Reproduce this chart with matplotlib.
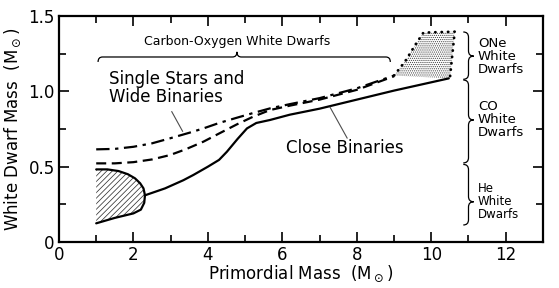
import numpy as np
import matplotlib
matplotlib.use("Agg")
import matplotlib.pyplot as plt
from matplotlib.path import Path
from matplotlib.patches import PathPatch, Polygon

# single stars and wide binaries (dash-dot)
single_x = [1.0, 1.5, 2.0, 2.5, 2.98, 3.5, 3.88, 4.3, 4.78, 5.2, 5.67, 6.2, 7.0, 8.0, 9.0]
single_y = [0.615, 0.618, 0.632, 0.655, 0.688, 0.725, 0.754, 0.79, 0.825, 0.855, 0.887, 0.915, 0.955, 1.02, 1.105]

# wide binaries lower branch (dashed)
wide_x = [1.0, 1.5, 2.0, 2.5, 2.98, 3.4, 3.88, 4.3, 4.78, 5.2, 5.67, 6.2, 7.0, 8.0, 9.0]
wide_y = [0.522, 0.522, 0.53, 0.548, 0.577, 0.615, 0.666, 0.72, 0.781, 0.83, 0.876, 0.905, 0.945, 1.01, 1.10]

# close binaries (solid)
close_x = [2.31, 2.85, 3.34, 3.61, 4.0, 4.3, 4.51, 4.8, 5.05, 5.3, 5.67, 6.2, 7.0, 8.0, 9.0, 10.0, 10.47]
close_y = [0.31, 0.356, 0.41, 0.445, 0.50, 0.545, 0.599, 0.685, 0.754, 0.79, 0.81, 0.845, 0.885, 0.945, 1.005, 1.06, 1.086]

# He white dwarf lobe (hatched)
lobe_x = [1.0, 1.3, 1.6, 1.85, 2.04, 2.18, 2.27, 2.31, 2.29, 2.2, 2.0, 1.5, 1.0]
lobe_y = [0.482, 0.482, 0.471, 0.45, 0.423, 0.39, 0.356, 0.31, 0.26, 0.215, 0.19, 0.16, 0.124]

# ONe white dwarf region (stippled)
one_x = [9.0, 9.3, 9.6, 9.79, 10.63, 10.5]
one_y = [1.105, 1.2, 1.32, 1.39, 1.396, 1.086]

x_ticks = [0, 2, 4, 6, 8, 10, 12]
y_ticks = [0, 0.5, 1.0, 1.5]
y_tick_labels = ["0", "0.5", "1.0", "1.5"]

plt.rcParams['font.family'] = 'DejaVu Sans'
plt.rcParams['hatch.linewidth'] = 0.55

fig = plt.figure(figsize=(5.59, 2.88), dpi=100)
ax = fig.add_axes([0.1055, 0.1597, 0.8658, 0.7847])

# curves
ax.plot(single_x, single_y, color="black", linewidth=1.6, dashes=(6, 2.5, 1.5, 2.5))
ax.plot(wide_x, wide_y, color="black", linewidth=1.6, dashes=(4.5, 2.5))
ax.plot(close_x, close_y, color="black", linewidth=1.6, solid_capstyle="round")

# hatched lobe
ax.add_patch(Polygon(np.column_stack([lobe_x, lobe_y]), closed=True, facecolor="white",
                     edgecolor="0.2", hatch="//////", linewidth=0))
ax.plot(lobe_x, lobe_y, color="black", linewidth=1.6, solid_capstyle="round")

# stippled ONe region
ax.add_patch(Polygon(np.column_stack([one_x, one_y]), closed=True, facecolor="white",
                     edgecolor="0.25", hatch="........", linewidth=0))
ax.plot(one_x, one_y, color="black", linewidth=2.0, linestyle=(0, (0.1, 2.2)),
        dash_capstyle="round")

# labels and pointers
ax.text(1.35, 1.02, "Single Stars and\nWide Binaries", fontsize=12, ha="left", va="center",
        linespacing=1.0)
ax.plot([3.03, 3.32], [0.865, 0.735], color="0.3", linewidth=0.8)
ax.text(6.1, 0.625, "Close Binaries", fontsize=12, ha="left", va="center")
ax.plot([7.74, 7.28], [0.69, 0.895], color="0.3", linewidth=0.8)
ax.text(4.78, 1.33, "Carbon-Oxygen White Dwarfs", fontsize=9, ha="center", va="center")


def hbrace(x0, x1, xt, y, ye, yt, r):
    verts = [(x0, ye), (x0, y), (x0 + r, y), (xt - r, y), (xt, y), (xt, yt),
             (xt, y), (xt + r, y), (x1 - r, y), (x1, y), (x1, ye)]
    codes = [Path.MOVETO, Path.CURVE3, Path.CURVE3, Path.LINETO, Path.CURVE3, Path.CURVE3,
             Path.CURVE3, Path.CURVE3, Path.LINETO, Path.CURVE3, Path.CURVE3]
    ax.add_patch(PathPatch(Path(verts, codes), facecolor="none", edgecolor="black",
                           linewidth=0.9, clip_on=False))


def vbrace(y0, y1, yt, x, xe, xt, r):
    verts = [(xe, y0), (x, y0), (x, y0 - r), (x, yt + r), (x, yt), (xt, yt),
             (x, yt), (x, yt - r), (x, y1 + r), (x, y1), (xe, y1)]
    codes = [Path.MOVETO, Path.CURVE3, Path.CURVE3, Path.LINETO, Path.CURVE3, Path.CURVE3,
             Path.CURVE3, Path.CURVE3, Path.LINETO, Path.CURVE3, Path.CURVE3]
    ax.add_patch(PathPatch(Path(verts, codes), facecolor="none", edgecolor="black",
                           linewidth=0.9, clip_on=False))


hbrace(1.05, 8.9, 4.78, 1.228, 1.195, 1.262, 0.12)
vbrace(1.394, 1.08, 1.234, 11.0, 10.86, 11.14, 0.035)
vbrace(1.075, 0.525, 0.81, 11.0, 10.86, 11.14, 0.035)
vbrace(0.515, 0.113, 0.267, 11.0, 10.86, 11.14, 0.035)

ax.text(11.25, 1.234, "ONe\nWhite\nDwarfs", fontsize=9.5, ha="left", va="center", linespacing=1.0)
ax.text(11.25, 0.81, "CO\nWhite\nDwarfs", fontsize=9.5, ha="left", va="center", linespacing=1.0)
ax.text(11.25, 0.267, "He\nWhite\nDwarfs", fontsize=8.5, ha="left", va="center", linespacing=1.0)

# axes
ax.set_xlim(0, 13)
ax.set_ylim(0, 1.5)
ax.set_xticks(x_ticks)
ax.set_xticks(range(0, 14), minor=True)
ax.set_yticks(y_ticks)
ax.set_yticklabels(y_tick_labels)
ax.set_yticks(np.arange(0, 1.51, 0.25), minor=True)
ax.tick_params(which="both", direction="in", top=True, right=True, width=1.2, labelsize=12, pad=3)
ax.tick_params(which="major", length=7)
ax.tick_params(which="minor", length=5)
for spine in ax.spines.values():
    spine.set_linewidth(1.6)
ax.set_xlabel(r"Primordial Mass  (M$_\odot$)", fontsize=12, labelpad=0)
ax.set_ylabel(r"White Dwarf Mass  (M$_\odot$)", fontsize=12, labelpad=4)

fig.savefig("out.png", dpi=100)
